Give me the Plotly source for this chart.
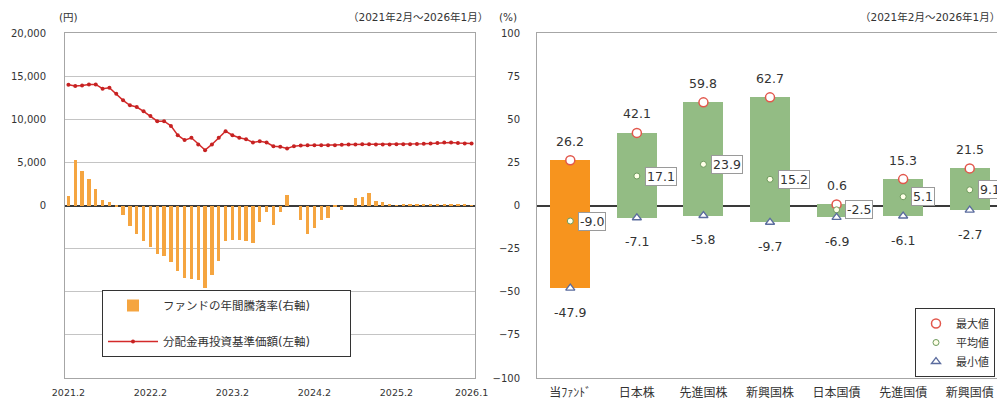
import plotly.graph_objects as go

# ---------------- data: left chart ----------------
month_idx = list(range(60))
tick_idx = [0, 12, 24, 36, 48, 59]
tick_labels = ["2021.2", "2022.2", "2023.2", "2024.2", "2025.2", "2026.1"]

nav = [14000, 13850, 13920, 14040, 14040, 13540, 13650, 12960, 12190, 11620,
       11420, 10920, 10380, 9770, 9770, 9230, 8150, 7580, 7850, 7080,
       6420, 7080, 7850, 8620, 8150, 7850, 7690, 7310, 7460, 7300,
       6880, 6810, 6620, 6880, 6950, 7000, 7000, 7000, 7000, 6980,
       7050, 7080, 7080, 7100, 7100, 7080, 7080, 7080, 7100, 7100,
       7100, 7120, 7150, 7200, 7250, 7300, 7300, 7250, 7200, 7190]

annual_ret = [5.6, 26.2, 20.0, 15.6, 9.8, 3.2, 2.3, -0.3, -5.6, -11.9,
              -16.4, -20.7, -24.1, -28.2, -29.5, -33.0, -37.7, -42.0, -42.4, -43.3,
              -47.9, -40.5, -32.0, -20.7, -20.0, -20.0, -20.7, -21.7, -9.4, -3.6,
              -11.3, -3.8, 6.2, 0.0, -8.5, -16.6, -13.2, -8.5, -7.5, -1.0,
              -2.8, 0.0, 4.2, 4.7, 7.0, 2.8, 1.9, 0.3, 0.1, 0.9,
              0.9, 0.3, 0.5, 0.7, 0.8, 0.8, 0.8, 0.7, 0.3, 0.2]

yen_ticks = [-20000, -15000, -10000, -5000, 0, 5000, 10000, 15000, 20000]
yen_labels = ["", "", "", "", "0", "5,000", "10,000", "15,000", "20,000"]

# ---------------- data: right chart ----------------
assets = ["当ﾌｧﾝﾄﾞ", "日本株", "先進国株", "新興国株", "日本国債", "先進国債", "新興国債"]
max_v = [26.2, 42.1, 59.8, 62.7, 0.6, 15.3, 21.5]
avg_v = [-9.0, 17.1, 23.9, 15.2, -2.5, 5.1, 9.1]
min_v = [-47.9, -7.1, -5.8, -9.7, -6.9, -6.1, -2.7]
pct_ticks = [-100, -75, -50, -25, 0, 25, 50, 75, 100]

FONT = "DejaVu Sans, Noto Sans CJK JP"
JFONT = "Noto Sans CJK JP"
OFF = 8                      # page body margin
W, H = 1005 - OFF, 403 - OFF
MT, MB = 33 - OFF, H - (378 - OFF)
PH = H - MT - MB


def px(xref):
    return (xref - OFF) / W


def py(yref):
    return (H - MB - (yref - OFF)) / PH


fig = go.Figure()

fig.add_trace(go.Bar(
    x=month_idx, y=annual_ret, xaxis="x", yaxis="y2",
    name="ファンドの年間騰落率(右軸)\u3000\u3000\u3000",
    marker=dict(color="#F5A540", line=dict(width=0)),
    width=0.5, legend="legend", legendgroup="a",
))
fig.add_trace(go.Scatter(
    x=month_idx, y=nav, xaxis="x", yaxis="y", mode="lines+markers",
    name="分配金再投資基準価額(左軸)\u3000\u3000\u3000", line=dict(color="#D42A2A", width=1.5),
    marker=dict(size=4, color="#C62222"), legend="legend", legendgroup="b",
))

bar_colors = ["#F7941E" if i == 0 else "#93BC84" for i in range(len(assets))]
fig.add_trace(go.Bar(
    x=assets, y=[mx - mn for mx, mn in zip(max_v, min_v)], base=min_v,
    xaxis="x2", yaxis="y3", marker=dict(color=bar_colors, line=dict(width=0)),
    width=0.6, showlegend=False, hoverinfo="skip",
))
fig.add_trace(go.Scatter(
    x=assets, y=max_v, xaxis="x2", yaxis="y3", mode="markers", name="最大値",
    marker=dict(symbol="circle", size=9, color="white", line=dict(color="#E2574C", width=1.5)),
    legend="legend2",
))
fig.add_trace(go.Scatter(
    x=assets, y=avg_v, xaxis="x2", yaxis="y3", mode="markers", name="平均値",
    marker=dict(symbol="circle", size=6, color="#FFFFE8", line=dict(color="#6E9A5E", width=1)),
    legend="legend2",
))
fig.add_trace(go.Scatter(
    x=assets, y=min_v, xaxis="x2", yaxis="y3", mode="markers", name="最小値",
    marker=dict(symbol="triangle-up", size=8, color="white", line=dict(color="#5B6C9E", width=1.3)),
    legend="legend2",
))

lab = dict(size=12.5, color="#333333", family=FONT)
ann = []
for a, v in zip(assets, max_v):
    ann.append(dict(x=a, y=v, xref="x2", yref="y3", text=f"{v:.1f}", showarrow=False,
                    yshift=19, font=lab))
for a, v in zip(assets, min_v):
    ann.append(dict(x=a, y=v, xref="x2", yref="y3", text=f"{v:.1f}", showarrow=False,
                    yshift=-24, font=lab))
for a, v in zip(assets, avg_v):
    ann.append(dict(x=a, y=v, xref="x2", yref="y3", text=f"{v:.1f}", showarrow=False,
                    xanchor="left", xshift=8, bgcolor="white", bordercolor="#9A9A9A",
                    borderwidth=1, borderpad=1, font=lab))

unit_f = dict(size=10.5, color="#333333", family=FONT)
period_f = dict(size=10.5, color="#333333", family=FONT)
ann += [
    dict(x=px(57), y=py(17), xref="paper", yref="paper", text="(円)", showarrow=False,
         xanchor="left", yanchor="middle", font=unit_f),
    dict(x=px(490), y=py(17), xref="paper", yref="paper", text="（2021年2月～2026年1月）",
         showarrow=False, xanchor="right", yanchor="middle", font=period_f),
    dict(x=px(497), y=py(17), xref="paper", yref="paper", text="(%)", showarrow=False,
         xanchor="left", yanchor="middle", font=unit_f),
    dict(x=px(1002), y=py(17), xref="paper", yref="paper", text="（2021年2月～2026年1月）",
         showarrow=False, xanchor="right", yanchor="middle", font=period_f),
]

fig.update_layout(
    width=W, height=H, margin=dict(l=0, r=0, t=MT, b=MB, autoexpand=False),
    paper_bgcolor="white", plot_bgcolor="white",
    font=dict(family=FONT, size=10, color="#333333"),
    barmode="overlay", bargap=0,
    xaxis=dict(domain=[px(65), px(475)], range=[-0.5, 59.5], tickvals=tick_idx,
               ticktext=tick_labels, showgrid=False, zeroline=False, showline=True,
               linecolor="#A6A6A6", mirror=True, ticks="", ticklabelstandoff=6,
               tickfont=dict(size=9.5, color="#333333", family=FONT), anchor="y",
               automargin=False),
    yaxis=dict(domain=[0, 1], range=[-20000, 20000], tickvals=yen_ticks, ticktext=yen_labels,
               showgrid=True, gridcolor="#C4C4C4", gridwidth=1, zeroline=True,
               zerolinecolor="#3A3A3A", zerolinewidth=1.5, showline=True, linecolor="#A6A6A6",
               mirror=True, ticks="", ticklabelstandoff=16,
               tickfont=dict(size=10, color="#333333", family=FONT), anchor="x",
               automargin=False),
    yaxis2=dict(range=[-100, 100], overlaying="y", anchor="x", visible=False, showgrid=False),
    xaxis2=dict(domain=[px(537), px(1003)], showgrid=False, zeroline=False, showline=True,
                linecolor="#A6A6A6", mirror=True, ticks="", anchor="y3", automargin=False,
                ticklabelstandoff=4, tickfont=dict(size=12, color="#333333", family=JFONT)),
    yaxis3=dict(domain=[0, 1], range=[-100, 100], tickvals=pct_ticks, showgrid=False,
                zeroline=True, zerolinecolor="#3A3A3A", zerolinewidth=1.5, showline=True,
                linecolor="#A6A6A6", mirror=True, ticks="", ticklabelstandoff=14,
                tickfont=dict(size=10, color="#333333", family=FONT), anchor="x2",
                automargin=False),
    legend=dict(x=px(102), y=py(290), xanchor="left", yanchor="top",
                bgcolor="white", bordercolor="#333333", borderwidth=1,
                font=dict(size=11.5, color="#333333", family=FONT),
                tracegroupgap=17, itemwidth=50, traceorder="grouped"),
    legend2=dict(x=px(995), y=py(377), xanchor="right", yanchor="bottom",
                 bgcolor="white", bordercolor="#333333", borderwidth=1,
                 font=dict(size=11, color="#333333", family=FONT), itemwidth=30),
    annotations=ann,
)

fig.write_html("out.html")
